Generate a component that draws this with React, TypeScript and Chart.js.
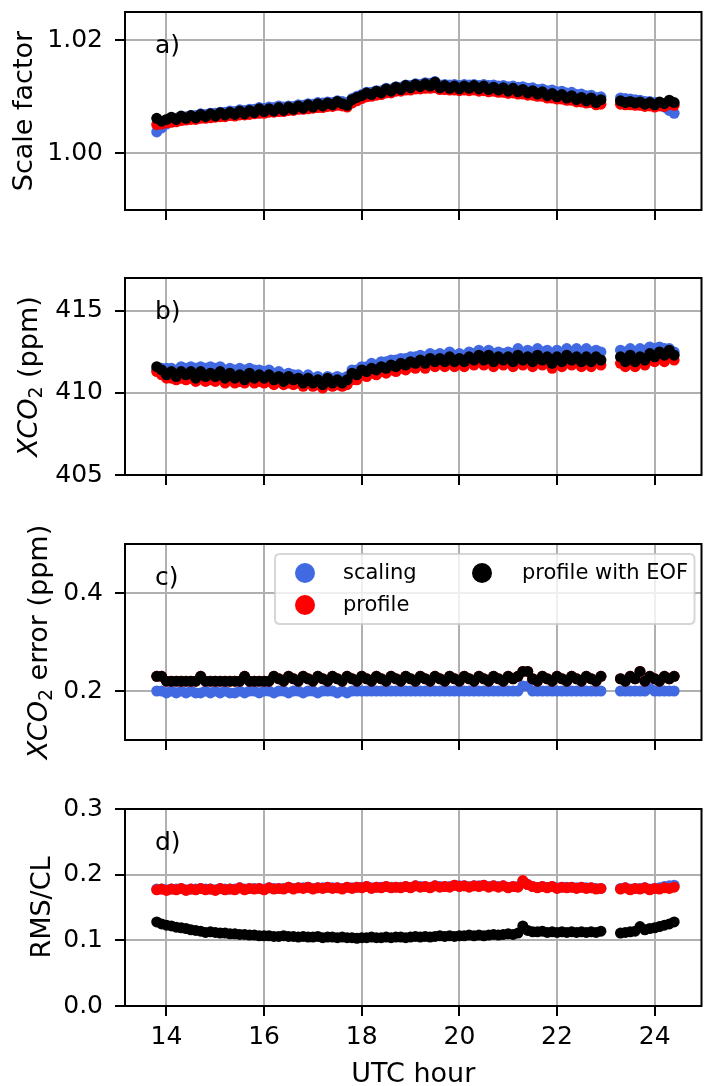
import React, { useEffect, useRef } from 'react';
import { Chart, registerables } from 'chart.js';

Chart.register(...registerables);

// ---------- data ----------
const hours = [
  13.8, 13.9, 14.0, 14.1, 14.2, 14.3, 14.4, 14.5, 14.6, 14.7,
  14.8, 14.9, 15.0, 15.1, 15.2, 15.3, 15.4, 15.5, 15.6, 15.7,
  15.8, 15.9, 16.0, 16.1, 16.2, 16.3, 16.4, 16.5, 16.6, 16.7,
  16.8, 16.9, 17.0, 17.1, 17.2, 17.3, 17.4, 17.5, 17.6, 17.7,
  17.8, 17.9, 18.0, 18.1, 18.2, 18.3, 18.4, 18.5, 18.6, 18.7,
  18.8, 18.9, 19.0, 19.1, 19.2, 19.3, 19.4, 19.5, 19.6, 19.7,
  19.8, 19.9, 20.0, 20.1, 20.2, 20.3, 20.4, 20.5, 20.6, 20.7,
  20.8, 20.9, 21.0, 21.1, 21.2, 21.3, 21.4, 21.5, 21.6, 21.7,
  21.8, 21.9, 22.0, 22.1, 22.2, 22.3, 22.4, 22.5, 22.6, 22.7,
  22.8, 22.9, 23.3, 23.4, 23.5, 23.6, 23.7, 23.8, 23.9, 24.0, 24.1, 24.2, 24.3, 24.4,
];

const xTicks = [14, 16, 18, 20, 22, 24];

// a) scale factor
const scaleScaling = [
  1.0038, 1.0045, 1.0052, 1.0058, 1.0062, 1.0065, 1.0065, 1.0067, 1.0067, 1.0070,
  1.0069, 1.0071, 1.0071, 1.0073, 1.0073, 1.0075, 1.0074, 1.0077, 1.0076, 1.0078,
  1.0078, 1.0081, 1.0080, 1.0082, 1.0081, 1.0084, 1.0082, 1.0084, 1.0083, 1.0086,
  1.0085, 1.0088, 1.0087, 1.0090, 1.0089, 1.0091, 1.0090, 1.0093, 1.0092, 1.0090,
  1.0097, 1.0101, 1.0104, 1.0108, 1.0108, 1.0111, 1.0111, 1.0115, 1.0114, 1.0118,
  1.0117, 1.0121, 1.0120, 1.0123, 1.0122, 1.0125, 1.0124, 1.0127, 1.0121, 1.0122,
  1.0121, 1.0122, 1.0120, 1.0122, 1.0121, 1.0122, 1.0120, 1.0122, 1.0120, 1.0121,
  1.0119, 1.0120, 1.0118, 1.0119, 1.0117, 1.0118, 1.0115, 1.0116, 1.0113, 1.0114,
  1.0111, 1.0112, 1.0109, 1.0110, 1.0107, 1.0108, 1.0104, 1.0105, 1.0102, 1.0103,
  1.0099, 1.0100, 1.0098, 1.0097, 1.0096, 1.0095, 1.0094, 1.0092, 1.0092, 1.0090, 1.0089, 1.0082, 1.0076, 1.0071,
];
const scaleProfile = [
  1.0051, 1.0052, 1.0054, 1.0055, 1.0056, 1.0058, 1.0059, 1.0060, 1.0060, 1.0062,
  1.0062, 1.0063, 1.0064, 1.0065, 1.0065, 1.0067, 1.0066, 1.0068, 1.0068, 1.0069,
  1.0070, 1.0071, 1.0071, 1.0073, 1.0073, 1.0074, 1.0074, 1.0076, 1.0076, 1.0078,
  1.0078, 1.0079, 1.0080, 1.0081, 1.0081, 1.0083, 1.0083, 1.0085, 1.0084, 1.0082,
  1.0089, 1.0093, 1.0097, 1.0100, 1.0101, 1.0103, 1.0104, 1.0107, 1.0107, 1.0110,
  1.0110, 1.0112, 1.0112, 1.0114, 1.0114, 1.0115, 1.0115, 1.0116, 1.0113, 1.0113,
  1.0112, 1.0112, 1.0111, 1.0112, 1.0111, 1.0112, 1.0110, 1.0111, 1.0109, 1.0110,
  1.0108, 1.0108, 1.0106, 1.0107, 1.0105, 1.0105, 1.0103, 1.0103, 1.0101, 1.0101,
  1.0098, 1.0098, 1.0096, 1.0096, 1.0094, 1.0094, 1.0091, 1.0091, 1.0089, 1.0090,
  1.0086, 1.0087, 1.0087, 1.0086, 1.0086, 1.0085, 1.0085, 1.0083, 1.0084, 1.0082, 1.0084, 1.0083, 1.0087, 1.0085,
];
const scaleEof = [
  1.0062, 1.0057, 1.0060, 1.0064, 1.0060, 1.0066, 1.0062, 1.0067, 1.0063, 1.0069,
  1.0065, 1.0070, 1.0066, 1.0072, 1.0068, 1.0073, 1.0069, 1.0075, 1.0070, 1.0076,
  1.0072, 1.0079, 1.0074, 1.0079, 1.0075, 1.0081, 1.0076, 1.0082, 1.0078, 1.0084,
  1.0080, 1.0086, 1.0082, 1.0088, 1.0084, 1.0089, 1.0086, 1.0092, 1.0088, 1.0085,
  1.0095, 1.0099, 1.0102, 1.0107, 1.0104, 1.0110, 1.0107, 1.0114, 1.0110, 1.0117,
  1.0113, 1.0120, 1.0116, 1.0122, 1.0118, 1.0123, 1.0119, 1.0126, 1.0116, 1.0120,
  1.0115, 1.0119, 1.0114, 1.0119, 1.0115, 1.0120, 1.0114, 1.0119, 1.0113, 1.0117,
  1.0112, 1.0116, 1.0110, 1.0115, 1.0109, 1.0113, 1.0107, 1.0111, 1.0105, 1.0109,
  1.0102, 1.0106, 1.0100, 1.0104, 1.0098, 1.0102, 1.0095, 1.0099, 1.0093, 1.0098,
  1.0090, 1.0095, 1.0093, 1.0090, 1.0092, 1.0089, 1.0091, 1.0087, 1.0090, 1.0086, 1.0091, 1.0088, 1.0094, 1.0090,
];

// b) XCO2 (ppm)
const xco2Scaling = [
  411.4, 411.5, 411.5, 411.5, 411.4, 411.6, 411.5, 411.6, 411.5, 411.6,
  411.5, 411.6, 411.5, 411.6, 411.4, 411.5, 411.4, 411.5, 411.4, 411.5,
  411.4, 411.4, 411.3, 411.4, 411.2, 411.3, 411.1, 411.2, 411.1, 411.1,
  410.9, 411.1, 410.9, 411.0, 410.8, 411.0, 410.9, 411.0, 410.9, 411.0,
  411.4, 411.4, 411.6, 411.6, 411.8, 411.7, 411.9, 411.9, 412.0, 412.0,
  412.1, 412.1, 412.2, 412.2, 412.3, 412.2, 412.4, 412.3, 412.4, 412.3,
  412.5, 412.3, 412.4, 412.3, 412.5, 412.4, 412.6, 412.4, 412.6, 412.4,
  412.5, 412.4, 412.5, 412.4, 412.7, 412.4, 412.6, 412.4, 412.7, 412.5,
  412.6, 412.3, 412.6, 412.4, 412.7, 412.5, 412.7, 412.5, 412.7, 412.5,
  412.6, 412.5, 412.6, 412.5, 412.7, 412.5, 412.7, 412.6, 412.8, 412.7, 412.8, 412.7, 412.7, 412.5,
];
const xco2Profile = [
  411.3, 411.1, 410.9, 410.9, 410.8, 410.9, 410.8, 410.9, 410.7, 410.9,
  410.7, 410.8, 410.7, 410.9, 410.6, 410.8, 410.6, 410.7, 410.6, 410.8,
  410.6, 410.7, 410.6, 410.7, 410.5, 410.7, 410.5, 410.6, 410.5, 410.6,
  410.4, 410.6, 410.4, 410.5, 410.3, 410.6, 410.4, 410.5, 410.4, 410.5,
  410.8, 410.8, 411.1, 411.0, 411.2, 411.1, 411.3, 411.2, 411.4, 411.3,
  411.5, 411.4, 411.6, 411.5, 411.7, 411.5, 411.8, 411.6, 411.8, 411.6,
  411.9, 411.6, 411.8, 411.6, 411.9, 411.7, 412.0, 411.7, 412.0, 411.6,
  411.9, 411.7, 411.9, 411.6, 412.0, 411.7, 411.9, 411.6, 411.9, 411.7,
  411.9, 411.5, 411.9, 411.6, 412.0, 411.7, 411.9, 411.6, 411.9, 411.6,
  411.9, 411.7, 411.8, 411.6, 412.0, 411.6, 411.9, 411.7, 412.0, 411.9, 412.1, 411.9, 412.2, 412.0,
];
const xco2Eof = [
  411.6, 411.4, 411.1, 411.3, 411.0, 411.3, 411.1, 411.3, 410.9, 411.3,
  411.0, 411.2, 411.0, 411.3, 410.9, 411.2, 410.9, 411.1, 410.8, 411.2,
  410.9, 411.1, 410.9, 411.1, 410.8, 411.0, 410.7, 411.0, 410.8, 410.9,
  410.6, 410.9, 410.6, 410.8, 410.5, 410.9, 410.6, 410.8, 410.6, 410.8,
  411.2, 411.1, 411.4, 411.3, 411.5, 411.4, 411.6, 411.5, 411.7, 411.6,
  411.8, 411.7, 411.9, 411.8, 412.0, 411.8, 412.1, 411.9, 412.1, 411.9,
  412.2, 411.9, 412.1, 411.9, 412.2, 412.0, 412.3, 412.0, 412.3, 411.9,
  412.2, 412.0, 412.2, 411.9, 412.3, 412.0, 412.2, 411.9, 412.3, 412.0,
  412.2, 411.8, 412.2, 411.9, 412.3, 412.0, 412.2, 411.9, 412.2, 411.9,
  412.2, 412.0, 412.2, 411.9, 412.3, 411.9, 412.2, 412.0, 412.4, 412.2, 412.5, 412.3, 412.6, 412.3,
];

// c) XCO2 error (ppm)
const errScaling = [
  0.200, 0.200, 0.196, 0.200, 0.196, 0.200, 0.196, 0.200, 0.196, 0.196,
  0.200, 0.196, 0.200, 0.196, 0.200, 0.196, 0.196, 0.200, 0.196, 0.200,
  0.200, 0.196, 0.200, 0.200, 0.196, 0.200, 0.200, 0.196, 0.200, 0.200,
  0.196, 0.200, 0.200, 0.196, 0.200, 0.200, 0.200, 0.196, 0.200, 0.196,
  0.200, 0.200, 0.200, 0.200, 0.200, 0.200, 0.200, 0.200, 0.200, 0.200,
  0.200, 0.200, 0.200, 0.200, 0.200, 0.200, 0.200, 0.200, 0.200, 0.200,
  0.200, 0.200, 0.200, 0.200, 0.200, 0.200, 0.200, 0.200, 0.200, 0.200,
  0.200, 0.200, 0.200, 0.200, 0.200, 0.210, 0.210, 0.200, 0.200, 0.200,
  0.200, 0.200, 0.200, 0.200, 0.200, 0.200, 0.200, 0.200, 0.200, 0.200,
  0.200, 0.200, 0.200, 0.200, 0.200, 0.200, 0.200, 0.200, 0.205, 0.200, 0.200, 0.200, 0.200, 0.200,
];
const errProfile = [
  0.230, 0.230, 0.220, 0.220, 0.220, 0.220, 0.220, 0.220, 0.220, 0.230,
  0.220, 0.220, 0.220, 0.220, 0.220, 0.220, 0.220, 0.220, 0.230, 0.220,
  0.220, 0.220, 0.220, 0.220, 0.230, 0.225, 0.220, 0.230, 0.225, 0.220,
  0.230, 0.225, 0.220, 0.230, 0.225, 0.220, 0.230, 0.225, 0.220, 0.230,
  0.225, 0.220, 0.230, 0.225, 0.220, 0.230, 0.225, 0.220, 0.230, 0.225,
  0.220, 0.230, 0.225, 0.220, 0.230, 0.225, 0.220, 0.230, 0.225, 0.220,
  0.230, 0.225, 0.220, 0.230, 0.225, 0.220, 0.230, 0.225, 0.220, 0.230,
  0.225, 0.220, 0.230, 0.225, 0.230, 0.240, 0.240, 0.225, 0.220, 0.230,
  0.225, 0.220, 0.230, 0.225, 0.220, 0.230, 0.225, 0.220, 0.230, 0.225,
  0.220, 0.230, 0.225, 0.220, 0.230, 0.225, 0.240, 0.220, 0.230, 0.225, 0.220, 0.230, 0.225, 0.230,
];
const errEof = [
  0.230, 0.230, 0.220, 0.220, 0.220, 0.220, 0.220, 0.220, 0.220, 0.230,
  0.220, 0.220, 0.220, 0.220, 0.220, 0.220, 0.220, 0.220, 0.230, 0.220,
  0.220, 0.220, 0.220, 0.220, 0.230, 0.225, 0.220, 0.230, 0.225, 0.220,
  0.230, 0.225, 0.220, 0.230, 0.225, 0.220, 0.230, 0.225, 0.220, 0.230,
  0.225, 0.220, 0.230, 0.225, 0.220, 0.230, 0.225, 0.220, 0.230, 0.225,
  0.220, 0.230, 0.225, 0.220, 0.230, 0.225, 0.220, 0.230, 0.225, 0.220,
  0.230, 0.225, 0.220, 0.230, 0.225, 0.220, 0.230, 0.225, 0.220, 0.230,
  0.225, 0.220, 0.230, 0.225, 0.230, 0.240, 0.240, 0.225, 0.220, 0.230,
  0.225, 0.220, 0.230, 0.225, 0.220, 0.230, 0.225, 0.220, 0.230, 0.225,
  0.220, 0.230, 0.225, 0.220, 0.230, 0.225, 0.240, 0.220, 0.230, 0.225, 0.220, 0.230, 0.225, 0.230,
];

// d) RMS/CL
const rmsScaling = [
  0.178, 0.178, 0.177, 0.178, 0.178, 0.179, 0.177, 0.178, 0.178, 0.179,
  0.178, 0.178, 0.177, 0.179, 0.178, 0.178, 0.178, 0.180, 0.178, 0.179,
  0.179, 0.179, 0.178, 0.180, 0.179, 0.179, 0.179, 0.181, 0.179, 0.180,
  0.180, 0.181, 0.179, 0.180, 0.180, 0.181, 0.180, 0.180, 0.179, 0.181,
  0.180, 0.181, 0.181, 0.182, 0.180, 0.181, 0.181, 0.182, 0.181, 0.181,
  0.181, 0.182, 0.181, 0.183, 0.182, 0.182, 0.181, 0.183, 0.182, 0.182,
  0.182, 0.184, 0.183, 0.183, 0.182, 0.183, 0.183, 0.184, 0.182, 0.183,
  0.182, 0.183, 0.181, 0.182, 0.182, 0.190, 0.185, 0.182, 0.181, 0.182,
  0.181, 0.182, 0.180, 0.181, 0.181, 0.181, 0.180, 0.181, 0.180, 0.180,
  0.179, 0.179, 0.179, 0.180, 0.178, 0.179, 0.179, 0.180, 0.178, 0.179, 0.180, 0.182, 0.183, 0.184,
];
const rmsProfile = [
  0.177, 0.178, 0.176, 0.178, 0.177, 0.179, 0.176, 0.178, 0.177, 0.179,
  0.177, 0.178, 0.176, 0.179, 0.177, 0.178, 0.177, 0.180, 0.177, 0.179,
  0.178, 0.179, 0.177, 0.180, 0.178, 0.179, 0.178, 0.181, 0.178, 0.180,
  0.179, 0.181, 0.178, 0.180, 0.179, 0.181, 0.179, 0.180, 0.178, 0.181,
  0.179, 0.181, 0.180, 0.182, 0.179, 0.181, 0.180, 0.182, 0.180, 0.181,
  0.180, 0.182, 0.180, 0.183, 0.181, 0.182, 0.180, 0.183, 0.181, 0.182,
  0.181, 0.184, 0.182, 0.183, 0.181, 0.183, 0.182, 0.184, 0.181, 0.183,
  0.181, 0.183, 0.180, 0.182, 0.181, 0.191, 0.185, 0.182, 0.180, 0.182,
  0.180, 0.182, 0.179, 0.181, 0.180, 0.181, 0.179, 0.181, 0.179, 0.180,
  0.178, 0.179, 0.178, 0.180, 0.177, 0.179, 0.178, 0.180, 0.177, 0.179, 0.178, 0.180, 0.179, 0.181,
];
const rmsEof = [
  0.128, 0.125, 0.123, 0.122, 0.120, 0.119, 0.118, 0.116, 0.115, 0.114,
  0.112, 0.113, 0.112, 0.111, 0.111, 0.110, 0.110, 0.109, 0.109, 0.108,
  0.108, 0.107, 0.107, 0.107, 0.106, 0.106, 0.107, 0.106, 0.106, 0.105,
  0.106, 0.105, 0.105, 0.106, 0.104, 0.105, 0.105, 0.104, 0.105, 0.104,
  0.104, 0.103, 0.104, 0.104, 0.105, 0.104, 0.104, 0.105, 0.104, 0.105,
  0.105, 0.104, 0.105, 0.106, 0.105, 0.106, 0.105, 0.106, 0.107, 0.106,
  0.107, 0.106, 0.107, 0.107, 0.108, 0.107, 0.108, 0.107, 0.108, 0.109,
  0.108, 0.109, 0.110, 0.109, 0.111, 0.122, 0.115, 0.113, 0.113, 0.114,
  0.112, 0.113, 0.112, 0.113, 0.112, 0.113, 0.112, 0.113, 0.112, 0.113,
  0.112, 0.114, 0.111, 0.112, 0.113, 0.114, 0.121, 0.116, 0.118, 0.119, 0.121, 0.123, 0.125, 0.128,
];

const seriesLabels = ['scaling', 'profile', 'profile with EOF'];
const seriesColors = ['#4169e1', '#ff0000', '#000000'];

// ---------- helpers ----------
const FONT = "'DejaVu Sans', 'Liberation Sans', sans-serif";

type Seg = { text: string; italic?: boolean; sub?: boolean };

interface Panel {
  key: string;
  top: number;
  height: number;
  padTop: number;
  xAxisH: number;
  yMin: number;
  yMax: number;
  yTicks: number[];
  yDec: number;
  label: string;
  title: Seg[];
  titleX: number;
  series: number[][];
  xLabels: boolean;
  legend: boolean;
}

const panels: Panel[] = [
  {
    key: 'a', top: 0, height: 220, padTop: 12, xAxisH: 10,
    yMin: 0.99, yMax: 1.025, yTicks: [1.0, 1.02], yDec: 2,
    label: 'a)', title: [{ text: 'Scale factor' }], titleX: 32,
    series: [scaleScaling, scaleProfile, scaleEof], xLabels: false, legend: false,
  },
  {
    key: 'b', top: 230, height: 260, padTop: 48, xAxisH: 15,
    yMin: 405, yMax: 417, yTicks: [405, 410, 415], yDec: 0,
    label: 'b)', title: [{ text: 'XCO', italic: true }, { text: '2', sub: true }, { text: ' (ppm)' }], titleX: 37,
    series: [xco2Scaling, xco2Profile, xco2Eof], xLabels: false, legend: false,
  },
  {
    key: 'c', top: 490, height: 310, padTop: 54, xAxisH: 60,
    yMin: 0.1, yMax: 0.5, yTicks: [0.2, 0.4], yDec: 1,
    label: 'c)', title: [{ text: 'XCO', italic: true }, { text: '2', sub: true }, { text: ' error (ppm)' }], titleX: 47,
    series: [errScaling, errProfile, errEof], xLabels: false, legend: true,
  },
  {
    key: 'd', top: 750, height: 336, padTop: 59, xAxisH: 80,
    yMin: 0, yMax: 0.3, yTicks: [0, 0.1, 0.2, 0.3], yDec: 1,
    label: 'd)', title: [{ text: 'RMS/CL' }], titleX: 50,
    series: [rmsScaling, rmsProfile, rmsEof], xLabels: true, legend: false,
  },
];

function drawRotated(ctx: CanvasRenderingContext2D, segs: Seg[], x: number, cy: number) {
  ctx.save();
  ctx.translate(x, cy);
  ctx.rotate(-Math.PI / 2);
  ctx.textAlign = 'left';
  ctx.textBaseline = 'alphabetic';
  ctx.fillStyle = '#000';
  const fonts = segs.map((s) => (s.sub ? `19px ${FONT}` : `${s.italic ? 'italic ' : ''}27px ${FONT}`));
  const widths = segs.map((s, i) => {
    ctx.font = fonts[i];
    return ctx.measureText(s.text).width;
  });
  const total = widths.reduce((a, b) => a + b, 0);
  let pos = -total / 2;
  segs.forEach((s, i) => {
    ctx.font = fonts[i];
    ctx.fillText(s.text, pos, s.sub ? 5 : 0);
    pos += widths[i];
  });
  ctx.restore();
}

function decorPlugin(p: Panel) {
  return {
    id: 'decor' + p.key,
    afterDatasetsDraw(chart: any) {
      const ctx: CanvasRenderingContext2D = chart.ctx;
      const ca = chart.chartArea;
      ctx.save();
      // spines
      ctx.strokeStyle = '#000';
      ctx.lineWidth = 2;
      ctx.strokeRect(ca.left, ca.top, ca.right - ca.left, ca.bottom - ca.top);
      // panel label
      ctx.fillStyle = '#000';
      ctx.font = `25px ${FONT}`;
      ctx.textAlign = 'left';
      ctx.textBaseline = 'alphabetic';
      ctx.fillText(p.label, ca.left + 30, ca.top + 41);
      // y title
      drawRotated(ctx, p.title, p.titleX, (ca.top + ca.bottom) / 2);
      // legend
      if (p.legend) {
        const lx = ca.left + 150;
        const ly = ca.top + 10;
        const lw = ca.right - 7 - lx;
        const lh = 70;
        const r = 5;
        ctx.beginPath();
        ctx.moveTo(lx + r, ly);
        ctx.lineTo(lx + lw - r, ly);
        ctx.quadraticCurveTo(lx + lw, ly, lx + lw, ly + r);
        ctx.lineTo(lx + lw, ly + lh - r);
        ctx.quadraticCurveTo(lx + lw, ly + lh, lx + lw - r, ly + lh);
        ctx.lineTo(lx + r, ly + lh);
        ctx.quadraticCurveTo(lx, ly + lh, lx, ly + lh - r);
        ctx.lineTo(lx, ly + r);
        ctx.quadraticCurveTo(lx, ly, lx + r, ly);
        ctx.closePath();
        ctx.fillStyle = 'rgba(255,255,255,0.8)';
        ctx.fill();
        ctx.strokeStyle = 'rgba(204,204,204,0.8)';
        ctx.lineWidth = 2;
        ctx.stroke();
        const pos = [
          { mx: ca.left + 180, tx: ca.left + 218, y: ca.top + 29 },
          { mx: ca.left + 180, tx: ca.left + 218, y: ca.top + 61 },
          { mx: ca.left + 357, tx: ca.left + 397, y: ca.top + 29 },
        ];
        ctx.font = `21px ${FONT}`;
        ctx.textBaseline = 'middle';
        seriesLabels.forEach((lab, i) => {
          ctx.beginPath();
          ctx.arc(pos[i].mx, pos[i].y, 10, 0, Math.PI * 2);
          ctx.fillStyle = seriesColors[i];
          ctx.fill();
          ctx.fillStyle = '#000';
          ctx.fillText(lab, pos[i].tx, pos[i].y + 1);
        });
      }
      // x title
      if (p.xLabels) {
        ctx.font = `27px ${FONT}`;
        ctx.textAlign = 'center';
        ctx.textBaseline = 'alphabetic';
        ctx.fillStyle = '#000';
        ctx.fillText('UTC hour', (ca.left + ca.right) / 2, ca.bottom + 76);
      }
      ctx.restore();
    },
  };
}

function makeChart(canvas: HTMLCanvasElement, p: Panel) {
  const datasets = [2, 1, 0].map((k) => ({
    label: seriesLabels[k],
    data: hours.map((h, i) => ({ x: h, y: p.series[k][i] })),
    backgroundColor: seriesColors[k],
    borderColor: seriesColors[k],
    borderWidth: 0,
    pointRadius: 5.5,
    pointBorderWidth: 0,
    pointHoverRadius: 5.5,
  }));
  const gridOpts = {
    color: '#b0b0b0',
    lineWidth: 2,
    drawTicks: true,
    tickLength: 10,
    tickColor: '#000',
    tickWidth: 2,
  };
  return new Chart(canvas, {
    type: 'scatter',
    data: { datasets },
    options: {
      responsive: false,
      animation: false,
      events: [],
      layout: { padding: { top: p.padTop, right: 2, left: 0, bottom: 0 } },
      plugins: { legend: { display: false }, tooltip: { enabled: false } },
      scales: {
        x: {
          type: 'linear',
          min: 13.15,
          max: 24.96,
          afterBuildTicks: (s: any) => {
            s.ticks = xTicks.map((v) => ({ value: v }));
          },
          afterFit: (s: any) => {
            s.height = p.xAxisH;
            s.paddingLeft = 0;
            s.paddingRight = 0;
          },
          grid: gridOpts,
          border: { display: false },
          ticks: {
            display: p.xLabels,
            color: '#000',
            padding: 6,
            maxRotation: 0,
            font: { family: FONT, size: 25 },
            callback: (v: any) => String(v),
          },
        },
        y: {
          type: 'linear',
          min: p.yMin,
          max: p.yMax,
          afterBuildTicks: (s: any) => {
            s.ticks = p.yTicks.map((v) => ({ value: v }));
          },
          afterFit: (s: any) => {
            s.width = 125;
            s.paddingTop = 0;
            s.paddingBottom = 0;
          },
          grid: gridOpts,
          border: { display: false },
          ticks: {
            color: '#000',
            padding: 12,
            font: { family: FONT, size: 25 },
            callback: (v: any) => Number(v).toFixed(p.yDec),
          },
        },
      },
    },
    plugins: [decorPlugin(p)],
  } as any);
}

export default function App() {
  const refs = [useRef<HTMLCanvasElement>(null), useRef<HTMLCanvasElement>(null), useRef<HTMLCanvasElement>(null), useRef<HTMLCanvasElement>(null)];
  useEffect(() => {
    const charts = panels.map((p, i) => makeChart(refs[i].current as HTMLCanvasElement, p));
    return () => charts.forEach((c) => c.destroy());
  }, []);
  return (
    <div style={{ position: 'absolute', left: 0, top: 0, width: 707, height: 1086, background: '#fff', overflow: 'hidden' }}>
      {panels.map((p, i) => (
        <canvas
          key={p.key}
          ref={refs[i]}
          width={707}
          height={p.height}
          style={{ position: 'absolute', left: 0, top: p.top, width: 707, height: p.height }}
        />
      ))}
    </div>
  );
}
